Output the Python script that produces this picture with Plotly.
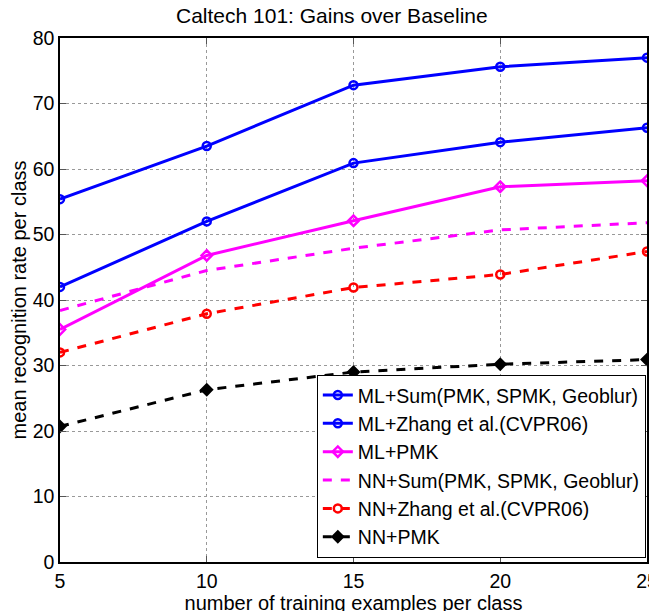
import plotly.graph_objects as go

x_vals = [5, 10, 15, 20, 25]
ml_sum = [55.4, 63.5, 72.8, 75.6, 77.0]
ml_zhang = [42.0, 52.0, 60.9, 64.1, 66.3]
ml_pmk = [35.5, 46.8, 52.1, 57.3, 58.2]
nn_sum = [38.4, 44.5, 47.9, 50.7, 51.8]
nn_zhang = [32.0, 37.9, 41.9, 43.9, 47.4]
nn_pmk = [20.7, 26.3, 29.0, 30.2, 30.9]

x_ticks = [5, 10, 15, 20, 25]
y_ticks = [0, 10, 20, 30, 40, 50, 60, 70, 80]

FONT = "Liberation Sans, Arial, Helvetica, sans-serif"

series = [
    ("ML+Sum(PMK, SPMK, Geoblur)", ml_sum, "#0000FF", "solid", "circle-open", True),
    ("ML+Zhang et al.(CVPR06)", ml_zhang, "#0000FF", "solid", "circle-open", True),
    ("ML+PMK", ml_pmk, "#FF00FF", "solid", "diamond-open", True),
    ("NN+Sum(PMK, SPMK, Geoblur)", nn_sum, "#FF00FF", "dash", None, False),
    ("NN+Zhang et al.(CVPR06)", nn_zhang, "#FF0000", "dash", "circle-open", True),
    ("NN+PMK", nn_pmk, "#000000", "dash", "diamond", True),
]

fig = go.Figure()
for name, ys, color, dash, sym, has_marker in series:
    if has_marker:
        mode = "lines+markers"
        marker = dict(symbol=sym, size=8, color=color, line=dict(color=color, width=2.5))
    else:
        mode = "lines"
        marker = None
    fig.add_trace(go.Scatter(
        x=x_vals, y=ys, name=name, mode=mode,
        line=dict(color=color, width=3, dash=dash),
        marker=marker,
    ))

axis_common = dict(
    showline=True, linecolor="black", linewidth=1.5, mirror="ticks",
    ticks="inside", ticklen=6, tickcolor="#555555",
    showgrid=True, gridcolor="#999999", griddash="dot", gridwidth=1,
    zeroline=False, automargin=False,
    tickfont=dict(family=FONT, size=19.5, color="black"),
)

# page body has an 8px margin, so the figure is sized/offset to land the axes
fig.update_layout(
    width=665, height=620,
    margin=dict(l=52, r=26, t=30, b=66),
    paper_bgcolor="white", plot_bgcolor="white",
    font=dict(family=FONT, color="black"),
    title=dict(text="Caltech 101: Gains over Baseline", x=0.487, xanchor="center",
               y=0.988, yanchor="middle", font=dict(family=FONT, size=21, color="black")),
    xaxis=dict(range=[5, 25], tickvals=x_ticks, ticklabelstandoff=1,
               ticklabeloverflow="allow",
               title=dict(text="number of training examples per class", standoff=0,
                          font=dict(family=FONT, size=20, color="black")),
               **axis_common),
    yaxis=dict(range=[0, 80], tickvals=y_ticks,
               title=dict(text="mean recognition rate per class", standoff=5.5,
                          font=dict(family=FONT, size=20, color="black")),
               **axis_common),
    legend=dict(x=0.998, y=0.008, xanchor="right", yanchor="bottom",
                bgcolor="white", bordercolor="black", borderwidth=1,
                font=dict(family=FONT, size=19.5, color="black")),
    showlegend=True,
)

fig.write_html("out.html")
